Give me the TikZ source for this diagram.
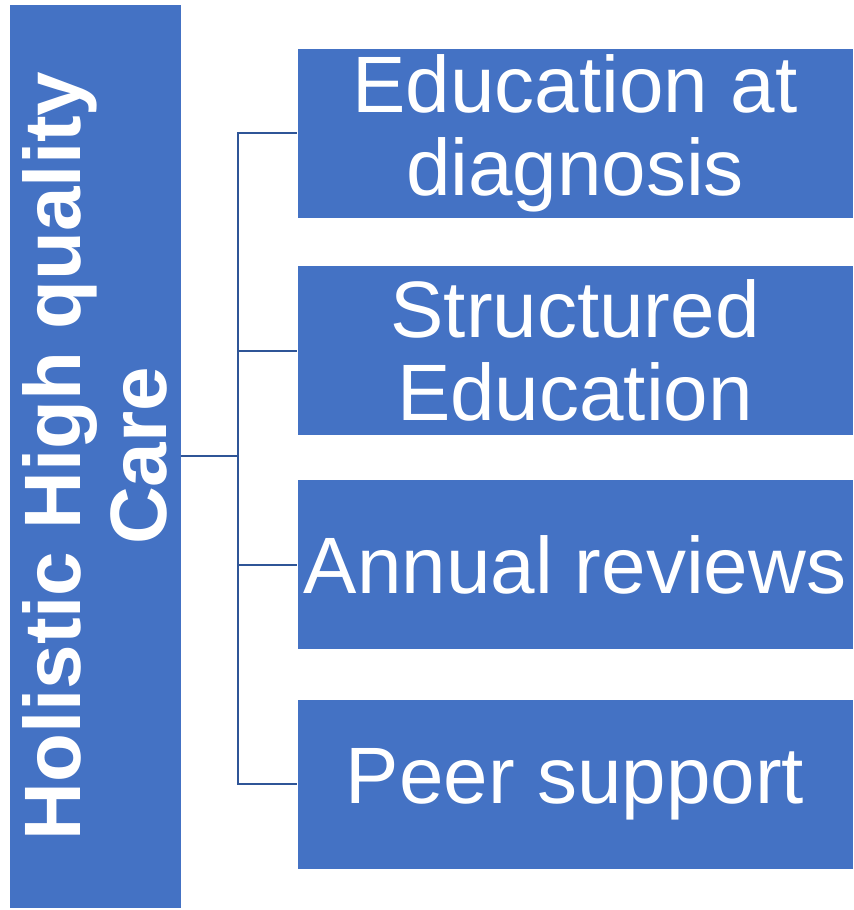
\documentclass[tikz,border=0pt]{standalone}
\usepackage{xcolor}
\usepackage{fontspec}
\setmainfont{Liberation Sans}
\usepackage{tikz}

\definecolor{boxblue}{RGB}{68,114,196}
\definecolor{linkblue}{RGB}{47,85,151}

\begin{document}
\begin{tikzpicture}[x=0.75pt,y=0.75pt,yscale=-1,xscale=1,
	leaf/.style={fill=boxblue, draw=white, line width=0.5pt, text=white, align=center, inner sep=0pt,
		minimum width=417pt, minimum height=127.5pt, font=\fontsize{60}{62}\selectfont},
	link/.style={draw=linkblue, line width=1.5pt}]
	%set diagram left start at 0, and has height of 910
	\useasboundingbox (0,0) rectangle (853,910);
	
	%Shape: Rectangle [id:care] 
	\node [leaf, rotate=90, minimum width=678pt, minimum height=129pt, font=\bfseries\fontsize{60}{64}\selectfont] (care) at (95,456) {Holistic High quality\\Care};
	%Shape: Rectangle [id:diag] 
	\node [leaf] (diag) at (575,133) {Education at\\diagnosis};
	%Shape: Rectangle [id:struct] 
	\node [leaf] (struct) at (575,350.5) {Structured\\Education};
	%Shape: Rectangle [id:annual] 
	\node [leaf] (annual) at (575,564.5) {Annual reviews};
	%Shape: Rectangle [id:peer] 
	\node [leaf] (peer) at (575,784) {Peer support};
	
	%Straight Lines [id:hub] 
	\coordinate (hub) at (238,456);
	\draw [link] (care.south) -- (hub) ;
	\draw [link] (hub) |- (diag.west) ;
	\draw [link] (hub) |- (struct.west) ;
	\draw [link] (hub) |- (annual.west) ;
	\draw [link] (hub) |- (peer.west) ;
	
\end{tikzpicture}
\end{document}
